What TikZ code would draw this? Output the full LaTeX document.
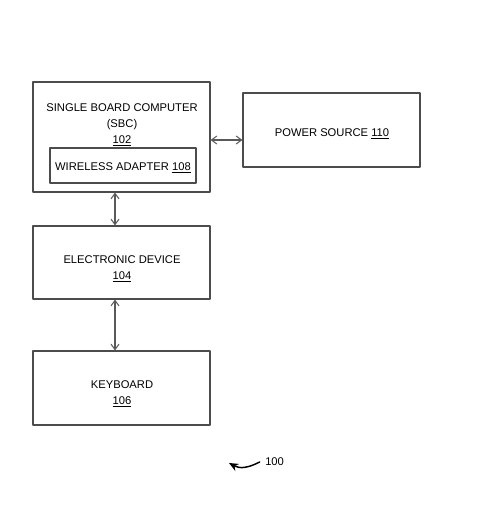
\documentclass[tikz,border=0pt]{standalone}
\usepackage{fontspec}
\setmainfont{Liberation Sans}
\usetikzlibrary{arrows.meta}
\tikzset{
	blk/.style={draw=black!70, line width=0.9pt, inner sep=0pt},
	lbl/.style={font=\fontsize{8.4pt}{12pt}\selectfont, inner sep=0pt, align=center},
	link/.style={<->, draw=black!65, line width=0.8pt}
}
\begin{document}
\begin{tikzpicture}[x=0.75pt, y=-0.75pt, >={Straight Barb[length=4pt,width=6pt]}, line join=round, line cap=round]
	\useasboundingbox (0,0) rectangle (480,519);
	% boxes
	\node[blk, minimum width=177pt*0.75, minimum height=110pt*0.75] (sbc) at (121.5,137) {};
	\node[blk, minimum width=146pt*0.75, minimum height=35pt*0.75] (wa) at (123,165.5) {};
	\node[blk, minimum width=177pt*0.75, minimum height=74pt*0.75] (pwr) at (331.5,130) {};
	\node[blk, minimum width=177pt*0.75, minimum height=73pt*0.75] (ed) at (121.5,262.5) {};
	\node[blk, minimum width=177pt*0.75, minimum height=74pt*0.75] (kb) at (121.5,388) {};
	% texts
	\node[lbl] (sbctxt) at (122,125) {SINGLE BOARD COMPUTER\\(SBC)\\\underline{102}};
	\node[lbl] (watxt) at (123,168) {WIRELESS ADAPTER \underline{108}};
	\node[lbl] (pwrtxt) at (332,134) {POWER SOURCE \underline{110}};
	\node[lbl] (edtxt) at (122,268.5) {ELECTRONIC DEVICE\\\underline{104}};
	\node[lbl] (kbtxt) at (122,393.5) {KEYBOARD\\\underline{106}};
	% links
	\draw[link] (sbc.east |- 0,140) -- (pwr.west |- 0,140);
	\draw[link] (sbc.south -| 115,0) -- (ed.north -| 115,0);
	\draw[link] (ed.south -| 115,0) -- (kb.north -| 115,0);
	% reference numeral
	\node[lbl, anchor=west] (ref) at (265,462) {100};
	\draw[-{Stealth[length=7pt,width=6pt]}, line width=1.1pt] ([xshift=-4pt]ref.west) .. controls (248,468) and (240,469) .. (229,463);
\end{tikzpicture}
\end{document}
